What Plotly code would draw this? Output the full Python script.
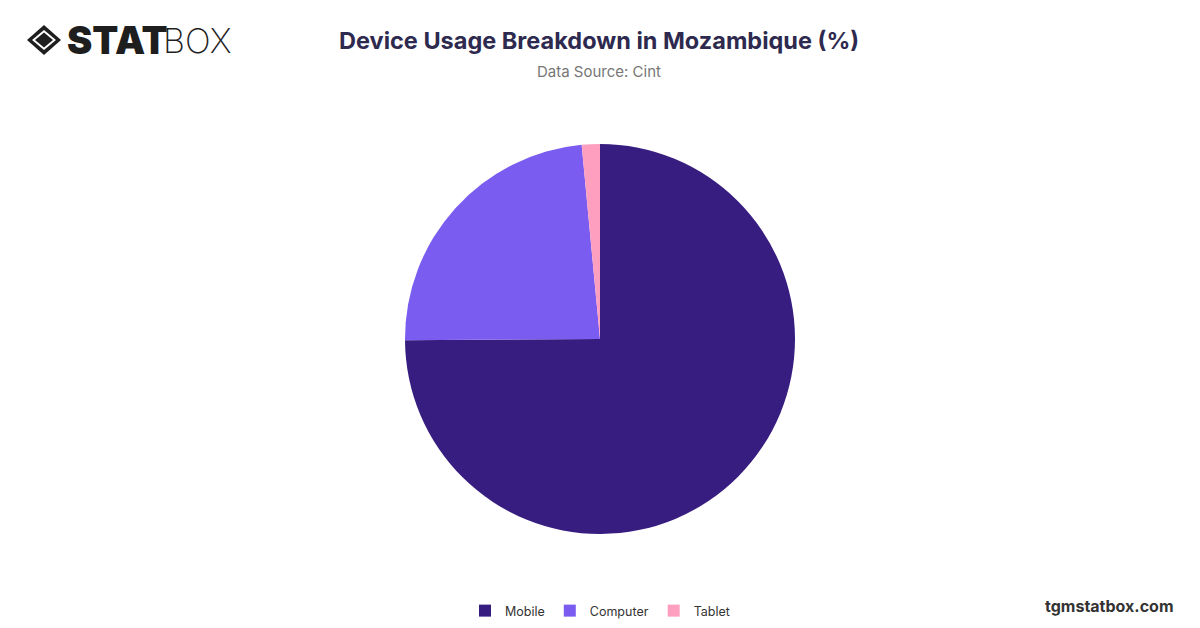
import plotly.graph_objects as go

devices = ["Mobile", "Computer", "Tablet"]
shares = [74.9, 23.6, 1.5]
colors = ["#371d80", "#7b5cf0", "#ff9fc0"]

W, H = 1200, 628
# page renders with an 8px body offset, so lay out in screen pixels minus 8
OFF = 8
T, B, L, R = 144 - OFF, 94 + OFF, 0, 2 * OFF


def py(y):
    # screen pixel row -> paper y
    return (H - B - (y - OFF)) / (H - T - B)


def px_(x):
    return (x - OFF - L) / (W - L - R)


fig = go.Figure(go.Pie(
    labels=devices,
    values=shares,
    marker=dict(colors=colors, line=dict(width=0)),
    sort=False,
    direction="clockwise",
    rotation=0,
    textinfo="none",
    hoverinfo="label+percent",
))

fig.update_layout(
    width=W,
    height=H,
    margin=dict(l=L, r=R, t=T, b=B),
    paper_bgcolor="white",
    plot_bgcolor="white",
    font=dict(family="Inter, Roboto, sans-serif", color="#333"),
    showlegend=True,
    legend=dict(
        orientation="h",
        xanchor="center", x=px_(600),
        yref="container", yanchor="middle", y=1 - (611 - OFF) / H,
        font=dict(size=12.5, color="#333"),
        itemwidth=30,
    ),
)

# title and subtitle
fig.add_annotation(text="<b>Device Usage Breakdown in Mozambique (%)</b>",
                   xref="paper", yref="paper", x=px_(599), y=py(40),
                   showarrow=False, xanchor="center", yanchor="middle",
                   font=dict(size=23.5, color="#2e2a4f"))
fig.add_annotation(text="Data Source: Cint",
                   xref="paper", yref="paper", x=px_(599), y=py(71),
                   showarrow=False, xanchor="center", yanchor="middle",
                   font=dict(size=15, color="#777"))

# footer
fig.add_annotation(text="<b>tgmstatbox.com</b>",
                   xref="paper", yref="paper", x=px_(1176), y=py(606),
                   showarrow=False, xanchor="right", yanchor="middle",
                   font=dict(size=16, color="#333"))


# logo
def diamond(cx, cy, hw, hh):
    return (f"M {px_(cx - hw)} {py(cy)} L {px_(cx)} {py(cy - hh)} "
            f"L {px_(cx + hw)} {py(cy)} L {px_(cx)} {py(cy + hh)} Z")


fig.add_shape(type="path", path=diamond(44, 40, 17, 15), xref="paper", yref="paper",
              fillcolor="#1e1e1e", line=dict(width=0))
fig.add_shape(type="path", path=diamond(44, 40, 12, 10), xref="paper", yref="paper",
              fillcolor="white", line=dict(width=0))
fig.add_shape(type="path", path=diamond(44, 40, 9, 7.5), xref="paper", yref="paper",
              fillcolor="#1e1e1e", line=dict(width=0))

fig.add_annotation(text="STAT", xref="paper", yref="paper", x=px_(65), y=py(40),
                   showarrow=False, xanchor="left", yanchor="middle",
                   font=dict(size=38, color="#1e1e1e", family="Inter", weight=900))
fig.add_annotation(text="BOX", xref="paper", yref="paper", x=px_(161), y=py(40),
                   showarrow=False, xanchor="left", yanchor="middle",
                   font=dict(size=34, color="#1e1e1e", family="Inter", weight=200))

fig.write_html("out.html")
